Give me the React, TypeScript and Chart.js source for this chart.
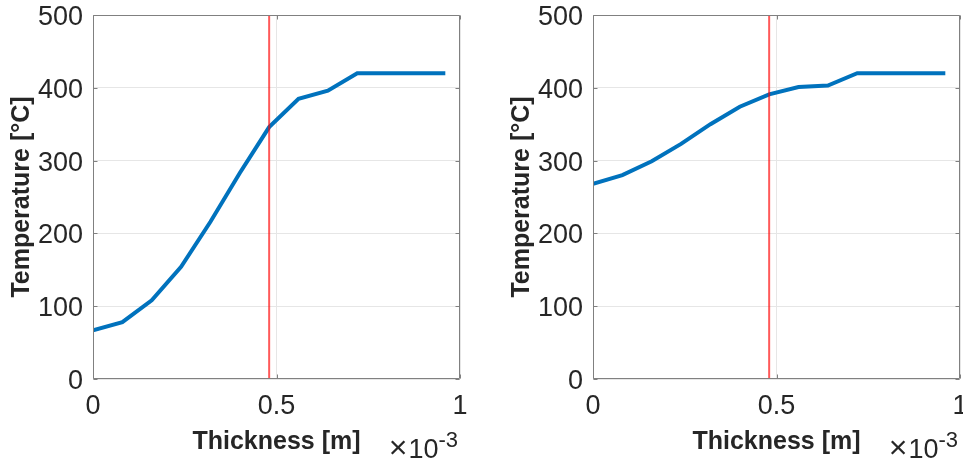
import { useEffect, useRef } from "react";
import { Chart, registerables } from "chart.js";

Chart.register(...registerables);

// ---- data ----
const thickness = [0, 0.08, 0.16, 0.24, 0.32, 0.4, 0.48, 0.56, 0.64, 0.72, 0.8, 0.88, 0.96]; // ×10^-3 m
const tempLeft = [67, 78, 108, 154, 216, 283, 346, 385, 396, 420, 420, 420, 420];
const tempRight = [268, 280, 299, 323, 350, 374, 391, 401, 403, 420, 420, 420, 420];
const interfaceThickness = 0.48;
const interfaceTemps = [0, 500];
const xTickValues = [0, 0.5, 1];
const xTickLabels = ["0", "0.5", "1"];
const yTickValues = [0, 100, 200, 300, 400, 500];
const xAxisTitle = "Thickness [m]";
const yAxisTitle = "Temperature [°C]";
const xExponentTimes = "×";
const xExponentBase = "10";
const xExponent = "-3";

const FONT = '"Liberation Sans", Arial, Helvetica, sans-serif';
const TEXT = "#262626";
const AREA_RIGHT = 460;

const boxPlugin = {
  id: "matlabBox",
  afterDatasetsDraw(chart: any) {
    const { ctx, chartArea } = chart;
    const { left, right, top, bottom } = chartArea;
    const xs = chart.scales.x;
    const ys = chart.scales.y;
    ctx.save();
    ctx.strokeStyle = "#808080";
    ctx.lineWidth = 1;
    const L = Math.round(left) + 0.5;
    const R = Math.round(right) - 0.5;
    const T = Math.round(top) + 0.5;
    const B = Math.round(bottom) - 0.5;
    ctx.beginPath();
    ctx.rect(L, T, R - L, B - T);
    ctx.stroke();
    const tl = 4;
    ctx.beginPath();
    xs.ticks.forEach((t: any) => {
      const px = Math.round(xs.getPixelForValue(t.value)) + 0.5;
      ctx.moveTo(px, B);
      ctx.lineTo(px, B - tl);
      ctx.moveTo(px, T);
      ctx.lineTo(px, T + tl);
    });
    ys.ticks.forEach((t: any) => {
      const py = Math.round(ys.getPixelForValue(t.value)) + 0.5;
      ctx.moveTo(L, py);
      ctx.lineTo(L + tl, py);
      ctx.moveTo(R, py);
      ctx.lineTo(R - tl, py);
    });
    ctx.stroke();
    // exponent label (×10^-3)
    ctx.fillStyle = TEXT;
    ctx.textBaseline = "alphabetic";
    ctx.textAlign = "right";
    ctx.font = `22px ${FONT}`;
    let xr = right - 2;
    ctx.fillText(xExponent, xr, bottom + 68);
    xr -= ctx.measureText(xExponent).width;
    ctx.font = `27px ${FONT}`;
    ctx.fillText(xExponentBase, xr, bottom + 79);
    xr -= ctx.measureText(xExponentBase).width + 1;
    ctx.font = `32px ${FONT}`;
    ctx.fillText(xExponentTimes, xr, bottom + 79);
    ctx.restore();
  },
};

function Panel({ temps, width }: { temps: number[]; width: number }) {
  const ref = useRef<HTMLCanvasElement | null>(null);
  useEffect(() => {
    if (!ref.current) return;
    const chart = new Chart(ref.current, {
      type: "line",
      data: {
        datasets: [
          {
            label: "interface",
            data: interfaceTemps.map((y) => ({ x: interfaceThickness, y })),
            borderColor: "rgba(255,0,0,0.65)",
            borderWidth: 2,
            pointRadius: 0,
            order: 0,
          },
          {
            label: "temperature",
            data: thickness.map((x, i) => ({ x, y: temps[i] })),
            borderColor: "#0072BD",
            borderWidth: 4,
            pointRadius: 0,
            tension: 0,
            order: 1,
          },
        ],
      },
      options: {
        responsive: false,
        animation: false,
        events: [],
        layout: { padding: { top: 15, right: width - AREA_RIGHT, bottom: 0, left: 0 } },
        plugins: { legend: { display: false }, tooltip: { enabled: false } },
        scales: {
          x: {
            type: "linear",
            min: 0,
            max: 1,
            afterBuildTicks: (s: any) => {
              s.ticks = xTickValues.map((v) => ({ value: v }));
            },
            afterFit: (s: any) => {
              s.height = 86;
              s.paddingLeft = 0;
              s.paddingRight = 0;
            },
            grid: { color: "#e6e6e6", lineWidth: 1, drawTicks: false },
            border: { display: false },
            ticks: {
              color: TEXT,
              font: { family: FONT, size: 27 },
              padding: 11,
              maxRotation: 0,
              callback: (v: number) => {
                const i = xTickValues.indexOf(v);
                return i >= 0 ? xTickLabels[i] : String(v);
              },
            },
            title: {
              display: true,
              text: xAxisTitle,
              color: TEXT,
              font: { family: FONT, size: 25, weight: "bold" },
              padding: { top: 0, bottom: 8 },
            },
          },
          y: {
            type: "linear",
            min: 0,
            max: 500,
            afterBuildTicks: (s: any) => {
              s.ticks = yTickValues.map((v) => ({ value: v }));
            },
            afterFit: (s: any) => {
              s.width = 93;
              s.paddingTop = 0;
              s.paddingBottom = 0;
            },
            grid: { color: "#e6e6e6", lineWidth: 1, drawTicks: false },
            border: { display: false },
            ticks: {
              color: TEXT,
              font: { family: FONT, size: 27, lineHeight: "5px" },
              padding: 10,
              callback: (v: number) => ["", String(v)],
            },
            title: {
              display: true,
              text: yAxisTitle,
              color: TEXT,
              font: { family: FONT, size: 25, weight: "bold" },
              padding: { top: 7, bottom: 0 },
            },
          },
        },
      } as any,
      plugins: [boxPlugin],
    });
    return () => chart.destroy();
  }, [temps, width]);
  return <canvas ref={ref} width={width} height={465} style={{ display: "block", width, height: 465 }} />;
}

export default function App() {
  return (
    <div
      style={{
        position: "absolute",
        left: 0,
        top: 0,
        width: 963,
        height: 465,
        overflow: "hidden",
        display: "flex",
        background: "#fff",
      }}
    >
      <Panel temps={tempLeft} width={500} />
      <Panel temps={tempRight} width={463} />
    </div>
  );
}
